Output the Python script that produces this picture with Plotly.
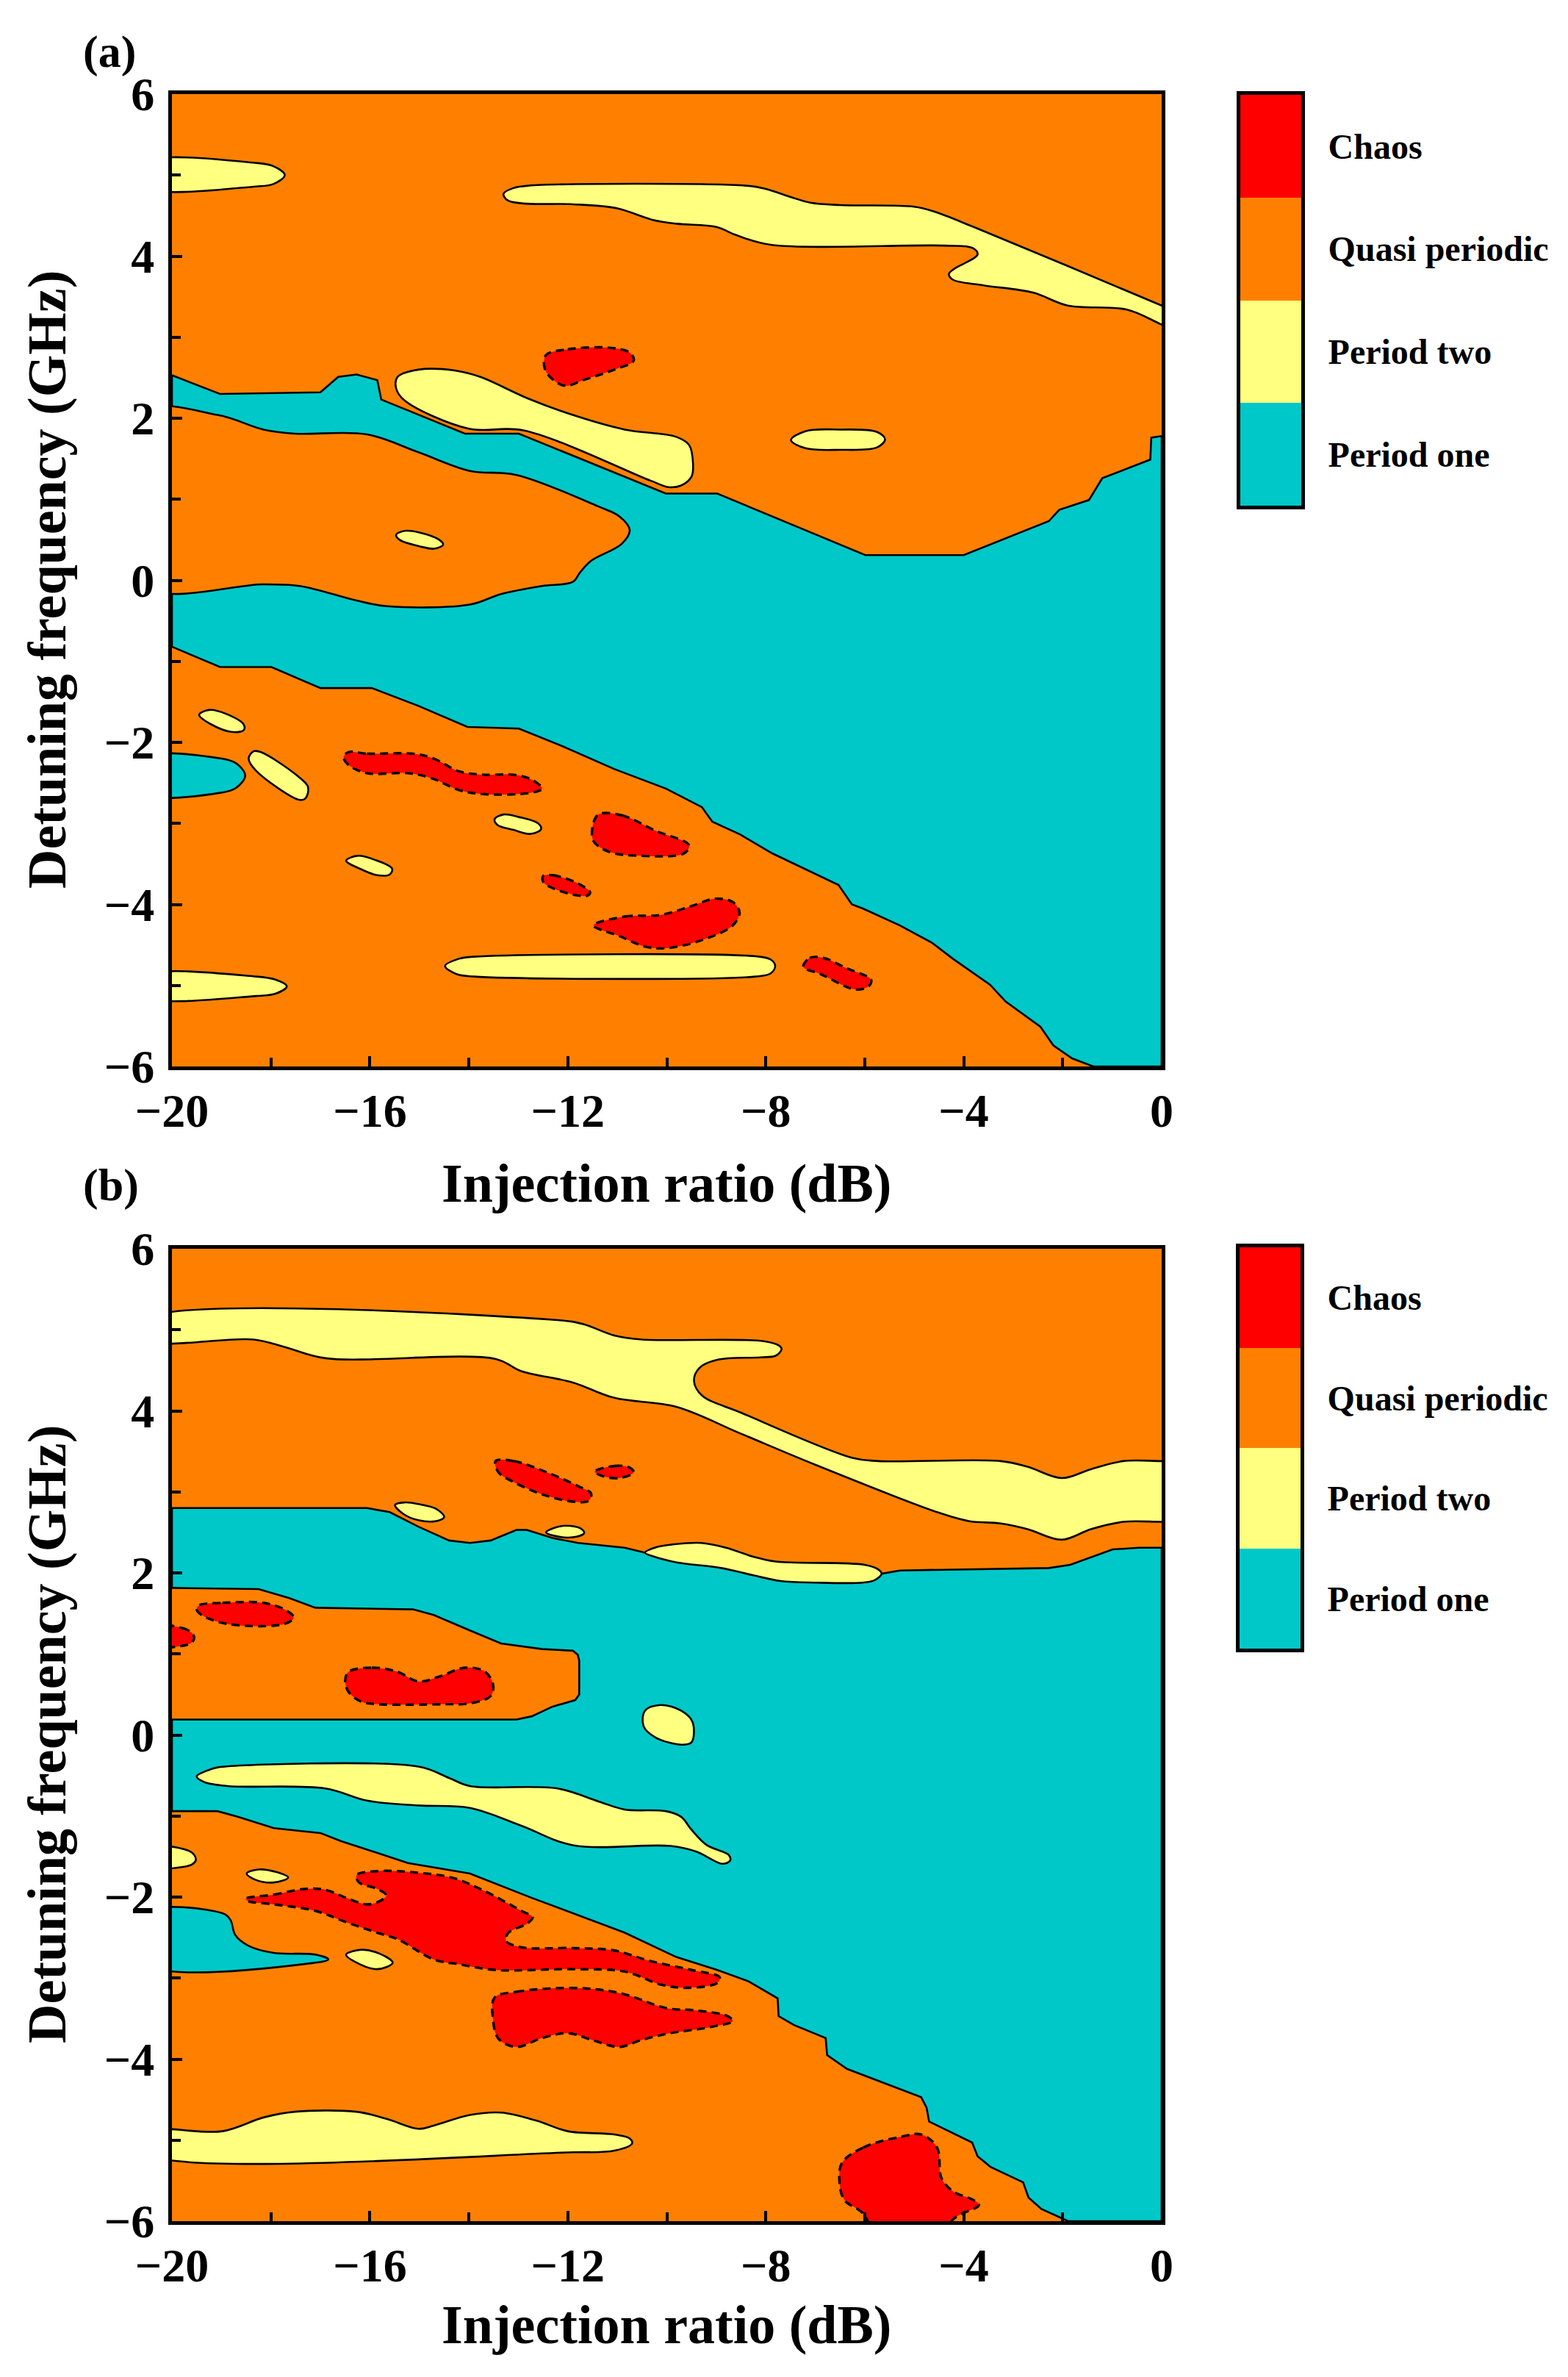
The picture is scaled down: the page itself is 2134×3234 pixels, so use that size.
import plotly.graph_objects as go

W, H = 2134, 3234
ORANGE = "#FF8000"
CYAN = "#00C8C8"
YELLOW = "#FFFF80"
RED = "#FF0000"

# ---------------- Panel (a) regions (x: injection ratio dB, y: detuning GHz) ----------------
A_P1_MAIN = [(-20, 2.53), (-19.03, 2.30), (-17.0, 2.32), (-16.64, 2.51), (-16.27, 2.54), (-15.85, 2.47),
             (-15.77, 2.23), (-14.08, 1.81), (-12.99, 1.81), (-10.02, 1.07), (-8.98, 1.07), (-5.99, 0.31),
             (-4.0, 0.31), (-2.28, 0.73), (-2.07, 0.87), (-1.47, 0.99), (-1.2, 1.26), (-0.23, 1.49),
             (-0.21, 1.76), (0, 1.78), (0, -6), (-1.38, -6), (-1.81, -5.90), (-2.19, -5.74), (-2.45, -5.51),
             (-3.15, -5.20), (-3.47, -4.99), (-4.22, -4.67), (-4.65, -4.47), (-5.29, -4.26), (-6.04, -4.05),
             (-6.26, -4.0), (-6.53, -3.76), (-7.87, -3.37), (-8.51, -3.14), (-9.08, -2.98), (-9.29, -2.80),
             (-10.02, -2.57), (-11.06, -2.33), (-12.1, -2.05), (-12.99, -1.83), (-14.03, -1.81),
             (-15.02, -1.55), (-15.96, -1.33), (-17.0, -1.33), (-17.99, -1.07), (-19.03, -1.07), (-20, -0.82)]
A_QP_POCKET = [(-20.6, 2.07), (-19.08, 2.04), (-18.15, 1.86), (-17.52, 1.81), (-16.06, 1.80), (-15.02, 1.58),
               (-13.98, 1.35), (-13.04, 1.30), (-11.38, 0.91), (-10.96, 0.79), (-10.75, 0.62), (-10.91, 0.45),
               (-11.53, 0.24), (-11.75, 0.10), (-11.9, -0.02), (-12.52, -0.07), (-13.35, -0.17),
               (-13.98, -0.30), (-15.65, -0.32), (-16.27, -0.25), (-17.42, -0.07), (-18.15, -0.05), (-20.6, -0.05)]
A_P1_BLOB = [(-20.6, -2.2), (-19.0, -2.2), (-18.7, -2.26), (-18.52, -2.41), (-18.7, -2.56), (-19.0, -2.62), (-20.6, -2.62)]
A_P2_1 = [(-20.6, 5.15), (-18.3, 5.15), (-17.95, 5.11), (-17.72, 5.0), (-17.95, 4.89), (-18.3, 4.86), (-20.6, 4.86)]
A_P2_2 = [(-13.3, 4.77), (-13.1, 4.84), (-12.8, 4.87), (-8.4, 4.87), (-8.0, 4.83), (-7.5, 4.73), (-7.1, 4.66),
          (-6.5, 4.63), (-5.0, 4.61), (-4.6, 4.55), (-3.8, 4.36), (0, 3.39), (0.5, 3.26), (0.5, 3.03), (0, 3.155),
          (-0.7, 3.34), (-1.9, 3.39), (-2.6, 3.55), (-3.6, 3.64), (-4.22, 3.71), (-4.3, 3.78), (-4.2, 3.84),
          (-3.72, 4.02), (-3.82, 4.10), (-4.4, 4.13), (-7.9, 4.14), (-8.6, 4.26), (-9.0, 4.36), (-9.8, 4.40),
          (-10.3, 4.45), (-11.0, 4.59), (-11.9, 4.64), (-12.9, 4.65), (-13.22, 4.69)]
A_P2_3 = [(-15.44, 2.51), (-15.02, 2.60), (-14.29, 2.59), (-13.77, 2.51), (-12.83, 2.25), (-11.90, 2.04),
          (-10.85, 1.86), (-9.81, 1.77), (-9.55, 1.67), (-9.47, 1.44), (-9.5, 1.28), (-9.71, 1.17),
          (-9.97, 1.15), (-10.33, 1.23), (-12.9, 1.85), (-14.0, 1.87), (-15.3, 2.22), (-15.47, 2.37)]
A_P2_4 = [(-15.47, 0.56), (-15.3, 0.61), (-15.0, 0.59), (-14.6, 0.5), (-14.52, 0.44), (-14.7, 0.39), (-15.0, 0.42), (-15.4, 0.5)]
A_P2_5 = [(-7.49, 1.73), (-7.2, 1.84), (-6.5, 1.86), (-5.75, 1.83), (-5.59, 1.74), (-5.75, 1.64), (-6.5, 1.61), (-7.2, 1.63)]
A_P2_6 = [(-19.45, -1.66), (-19.25, -1.6), (-18.9, -1.65), (-18.55, -1.78), (-18.55, -1.85), (-18.8, -1.87), (-19.2, -1.78)]
A_P2_7 = [(-18.45, -2.2), (-18.35, -2.11), (-18.2, -2.12), (-17.45, -2.42), (-17.25, -2.55), (-17.3, -2.69),
          (-17.42, -2.71), (-18.3, -2.35)]
A_P2_8 = [(-13.48, -2.95), (-13.3, -2.89), (-13.0, -2.92), (-12.6, -3.0), (-12.54, -3.07), (-12.75, -3.13),
          (-13.1, -3.08), (-13.42, -3.02)]
A_P2_9 = [(-16.48, -3.46), (-16.25, -3.40), (-15.9, -3.45), (-15.55, -3.56), (-15.6, -3.63), (-15.85, -3.64), (-16.2, -3.56)]
A_P2_10 = [(-14.48, -4.76), (-14.2, -4.67), (-13.9, -4.645), (-8.2, -4.64), (-7.9, -4.68), (-7.81, -4.76),
           (-7.9, -4.85), (-8.2, -4.89), (-13.9, -4.89), (-14.25, -4.86)]
A_P2_11 = [(-20.6, -4.89), (-18.3, -4.89), (-17.9, -4.93), (-17.68, -5.01), (-17.9, -5.1), (-18.3, -5.13), (-20.6, -5.13)]
A_CH_1 = [(-12.44, 2.78), (-12.0, 2.85), (-11.17, 2.87), (-10.75, 2.81), (-10.67, 2.71), (-11.06, 2.60),
          (-11.69, 2.47), (-12.05, 2.40), (-12.31, 2.48), (-12.47, 2.62)]
A_CH_2 = [(-16.43, -2.12), (-16.06, -2.14), (-15.13, -2.14), (-14.71, -2.20), (-14.19, -2.36), (-13.67, -2.40),
          (-13.09, -2.40), (-12.73, -2.46), (-12.52, -2.57), (-12.73, -2.62), (-13.67, -2.64), (-14.19, -2.59),
          (-14.76, -2.44), (-15.23, -2.38), (-16.06, -2.38), (-16.43, -2.28), (-16.53, -2.18)]
A_CH_3 = [(-11.38, -2.89), (-10.91, -2.90), (-10.23, -3.09), (-9.55, -3.27), (-9.65, -3.37), (-10.54, -3.40),
          (-11.17, -3.35), (-11.48, -3.22), (-11.5, -3.04)]
A_CH_4 = [(-12.5, -3.65), (-12.3, -3.64), (-11.8, -3.74), (-11.55, -3.85), (-11.6, -3.89), (-11.8, -3.89),
          (-12.3, -3.8), (-12.5, -3.72)]
A_CH_5 = [(-11.48, -4.26), (-10.85, -4.15), (-10.12, -4.13), (-9.5, -4.02), (-9.03, -3.93), (-8.67, -3.97),
          (-8.53, -4.10), (-8.67, -4.26), (-9.29, -4.44), (-10.02, -4.54), (-10.44, -4.52), (-10.96, -4.39)]
A_CH_6 = [(-7.24, -4.77), (-7.11, -4.66), (-6.84, -4.66), (-6.36, -4.79), (-5.87, -4.93), (-5.92, -5.01),
          (-6.19, -5.05), (-6.89, -4.86)]

# ---------------- Panel (b) regions ----------------
B_P1_MAIN = [(-20, 2.80), (-16.06, 2.80), (-15.6, 2.75), (-15.02, 2.57), (-14.4, 2.40), (-13.98, 2.37),
             (-13.56, 2.40), (-13.04, 2.53), (-12.83, 2.53), (-12.31, 2.43), (-11.79, 2.37), (-10.85, 2.31),
             (-10.44, 2.25), (-9.3, 2.2), (-8.25, 2.08), (-7.0, 2.0), (-6.0, 2.0), (-5.66, 1.99), (-5.29, 2.03),
             (-2.28, 2.06), (-1.85, 2.10), (-0.99, 2.29), (-0.46, 2.31), (0, 2.31), (0, -6), (-1.89, -6.0),
             (-2.43, -5.85), (-2.69, -5.71), (-2.8, -5.52), (-3.46, -5.33), (-3.72, -5.20), (-3.83, -5.03),
             (-4.7, -4.77), (-4.75, -4.60), (-4.86, -4.47), (-6.36, -4.12), (-6.76, -3.95), (-6.79, -3.74),
             (-7.43, -3.58), (-7.74, -3.47), (-7.76, -3.25), (-8.35, -3.04), (-8.98, -2.90), (-9.81, -2.74),
             (-10.85, -2.44), (-11.9, -2.20), (-12.73, -2.01), (-13.98, -1.71), (-15.23, -1.58),
             (-16.58, -1.31), (-17.0, -1.21), (-17.94, -1.15), (-18.67, -1.01), (-19.08, -0.94), (-20, -0.94)]
B_QP_POCKET = [(-20.6, 1.82), (-18.25, 1.80), (-17.63, 1.69), (-17.1, 1.57), (-15.13, 1.55), (-14.71, 1.48),
               (-13.98, 1.29), (-13.35, 1.13), (-12.52, 1.06), (-11.9, 1.04), (-11.8, 0.99), (-11.77, 0.92),
               (-11.77, 0.50), (-11.85, 0.43), (-12.31, 0.35), (-12.73, 0.23), (-13.04, 0.19), (-20.6, 0.19)]
B_P1_BLOB = [(-20.6, -2.20), (-18.98, -2.20), (-18.82, -2.28), (-18.72, -2.47), (-18.46, -2.60), (-17.94, -2.69),
             (-17.1, -2.71), (-16.84, -2.77), (-17.1, -2.81), (-20.6, -2.81)]
B_P2_1 = [(-20.6, 5.12), (-12.21, 5.12), (-11.69, 5.07), (-11.06, 4.93), (-10.5, 4.88), (-8.04, 4.86),
          (-7.72, 4.80), (-7.68, 4.76), (-7.8, 4.68), (-8.1, 4.66), (-8.98, 4.63), (-9.34, 4.53), (-9.45, 4.37),
          (-9.29, 4.19), (-8.51, 3.98), (-6.25, 3.42), (-5.72, 3.38), (-3.25, 3.38), (-2.71, 3.31), (-2.02, 3.17),
          (-1.43, 3.28), (-0.78, 3.38), (0, 3.38), (0.6, 3.38), (0.6, 2.63), (0, 2.63), (-0.78, 2.63),
          (-1.43, 2.54), (-2.02, 2.41), (-2.71, 2.54), (-3.25, 2.61), (-3.9, 2.64), (-4.54, 2.75), (-7.02, 3.34),
          (-8.51, 3.72), (-9.81, 4.05), (-11.06, 4.16), (-11.9, 4.35), (-12.94, 4.49), (-13.46, 4.64),
          (-16.9, 4.65), (-17.73, 4.79), (-18.35, 4.88), (-20.6, 4.88)]
B_P2_2 = [(-10.44, 2.25), (-10.2, 2.32), (-9.9, 2.35), (-9.3, 2.37), (-8.8, 2.31), (-8.25, 2.2), (-7.8, 2.14),
          (-6.0, 2.1), (-5.72, 2.04), (-5.66, 1.99), (-5.8, 1.91), (-6.04, 1.88), (-7.0, 1.88), (-7.7, 1.9),
          (-8.25, 1.97), (-8.9, 2.06), (-9.8, 2.13), (-10.25, 2.2)]
B_P2_3 = [(-15.49, 2.84), (-15.3, 2.87), (-15.02, 2.85), (-14.66, 2.79), (-14.5, 2.69), (-14.66, 2.64),
          (-15.02, 2.65), (-15.33, 2.73)]
B_P2_4 = [(-12.44, 2.50), (-12.2, 2.57), (-11.95, 2.58), (-11.72, 2.54), (-11.67, 2.49), (-11.9, 2.44), (-12.21, 2.45)]
B_P2_5 = [(-10.44, 0.30), (-10.13, 0.37), (-9.71, 0.30), (-9.48, 0.16), (-9.5, -0.09), (-9.71, -0.12),
          (-10.23, -0.03), (-10.47, 0.11)]
B_P2_6 = [(-19.5, -0.51), (-19.2, -0.42), (-19.08, -0.40), (-15.02, -0.39), (-14.4, -0.53), (-13.98, -0.63),
          (-12.21, -0.66), (-11.38, -0.82), (-10.85, -0.92), (-10.02, -0.94), (-9.71, -1.01), (-9.5, -1.17),
          (-9.19, -1.36), (-8.75, -1.48), (-8.72, -1.55), (-8.88, -1.59), (-9.4, -1.44), (-9.92, -1.37),
          (-11.9, -1.36), (-12.94, -1.12), (-13.98, -0.90), (-15.02, -0.87), (-16.06, -0.81), (-16.9, -0.66),
          (-18.88, -0.63), (-19.35, -0.58)]
B_P2_7 = [(-20.6, -1.39), (-19.75, -1.41), (-19.55, -1.48), (-19.52, -1.55), (-19.6, -1.6), (-19.8, -1.63), (-20.6, -1.63)]
B_P2_8 = [(-18.49, -1.71), (-18.25, -1.66), (-17.9, -1.69), (-17.65, -1.76), (-17.94, -1.82), (-18.3, -1.79)]
B_P2_9 = [(-16.48, -2.71), (-16.17, -2.65), (-15.8, -2.7), (-15.54, -2.81), (-15.85, -2.89), (-16.3, -2.8)]
B_P2_10 = [(-20.6, -4.90), (-18.98, -4.89), (-18.15, -4.72), (-17.52, -4.65), (-16.27, -4.65), (-15.65, -4.74),
           (-15.02, -4.86), (-14.71, -4.82), (-13.98, -4.69), (-13.35, -4.66), (-12.63, -4.76), (-12.0, -4.89),
           (-11.06, -4.93), (-10.75, -4.98), (-10.7, -5.04), (-11.06, -5.13), (-11.9, -5.15), (-20.6, -5.15)]
B_CH_1 = [(-20.6, 1.35), (-19.8, 1.32), (-19.6, 1.26), (-19.55, 1.2), (-19.6, 1.14), (-19.8, 1.1), (-20.6, 1.1)]
B_CH_2 = [(-19.45, 1.60), (-18.98, 1.63), (-18.15, 1.63), (-17.73, 1.55), (-17.54, 1.45), (-17.73, 1.37),
          (-18.88, 1.37), (-19.4, 1.48), (-19.5, 1.55)]
B_CH_3 = [(-16.43, 0.78), (-15.96, 0.83), (-15.44, 0.78), (-15.02, 0.66), (-14.6, 0.72), (-14.08, 0.83),
          (-13.67, 0.78), (-13.51, 0.62), (-13.56, 0.48), (-13.98, 0.39), (-14.5, 0.38), (-15.85, 0.38),
          (-16.17, 0.41), (-16.43, 0.53), (-16.5, 0.67)]
B_CH_4 = [(-13.46, 3.38), (-13.09, 3.38), (-12.42, 3.24), (-11.79, 3.07), (-11.53, 2.98), (-11.58, 2.89),
          (-11.9, 2.88), (-12.52, 2.97), (-13.09, 3.12), (-13.4, 3.24)]
B_CH_5 = [(-11.46, 3.25), (-11.06, 3.32), (-10.75, 3.30), (-10.67, 3.24), (-10.96, 3.17), (-11.27, 3.19)]
B_CH_6 = [(-18.51, -2.02), (-17.94, -1.97), (-17.31, -1.90), (-16.9, -1.91), (-16.48, -2.01), (-16.06, -2.09),
          (-15.8, -2.05), (-15.67, -1.98), (-15.85, -1.90), (-16.22, -1.82), (-16.27, -1.73), (-15.85, -1.68),
          (-15.02, -1.70), (-14.29, -1.77), (-13.67, -1.93), (-12.94, -2.17), (-12.71, -2.25), (-12.83, -2.33),
          (-13.2, -2.44), (-13.25, -2.54), (-12.94, -2.62), (-11.9, -2.63), (-11.06, -2.66), (-10.33, -2.79),
          (-9.5, -2.90), (-8.93, -2.99), (-8.98, -3.06), (-9.6, -3.12), (-10.12, -3.08), (-10.85, -2.92),
          (-11.9, -2.89), (-13.46, -2.90), (-14.19, -2.83), (-14.71, -2.77), (-15.44, -2.52), (-15.85, -2.44),
          (-16.48, -2.31), (-17.1, -2.17), (-17.94, -2.09), (-18.46, -2.05)]
B_CH_7 = [(-13.48, -3.24), (-13.04, -3.17), (-12.42, -3.13), (-11.58, -3.13), (-10.85, -3.20), (-10.02, -3.37),
          (-9.4, -3.40), (-8.77, -3.47), (-8.67, -3.53), (-9.08, -3.60), (-10.02, -3.69), (-10.54, -3.77),
          (-10.96, -3.85), (-11.48, -3.77), (-12.0, -3.68), (-12.52, -3.74), (-13.04, -3.85), (-13.4, -3.75),
          (-13.51, -3.52)]
B_CH_8 = [(-6.46, -5.28), (-6.03, -5.09), (-5.28, -4.96), (-4.86, -4.93), (-4.54, -5.09), (-4.45, -5.47),
          (-4.22, -5.63), (-3.8, -5.74), (-3.69, -5.80), (-4.22, -5.98), (-4.45, -6.3), (-5.63, -6.3),
          (-6.04, -5.9), (-6.41, -5.74), (-6.51, -5.52)]

# ---------------- Legend / axes ----------------
LEGEND_LABELS = ["Period one", "Period two", "Quasi periodic", "Chaos"]
LEGEND_CODES = [0, 1, 2, 3]
X_RANGE = [-20, 0]
Y_RANGE = [-6, 6]
X_TITLE = "Injection ratio (dB)"
Y_TITLE = "Detuning frequency (GHz)"
PANEL_LABELS = ["(a)", "(b)"]

FONT = "Liberation Serif, Times New Roman, serif"

fig = go.Figure()


def add_region(pts, color, xa, ya, shape="spline", dashed=False):
    xs = [p[0] for p in pts] + [pts[0][0]]
    ys = [p[1] for p in pts] + [pts[0][1]]
    line = dict(color="black", width=2.6, shape=shape)
    if shape == "spline":
        line["smoothing"] = 1.0
    if dashed:
        line["dash"] = "11px,7px"
        line["width"] = 3.4
    fig.add_trace(go.Scatter(x=xs, y=ys, mode="lines", fill="toself", fillcolor=color, line=line,
                             xaxis=xa, yaxis=ya, hoverinfo="skip", showlegend=False))


# panel (a)
add_region(A_P1_MAIN, CYAN, "x", "y", shape="linear")
add_region(A_QP_POCKET, ORANGE, "x", "y", shape="spline")
add_region(A_P1_BLOB, CYAN, "x", "y")
for r in [A_P2_1, A_P2_2, A_P2_3, A_P2_4, A_P2_5, A_P2_6, A_P2_7, A_P2_8, A_P2_9, A_P2_10, A_P2_11]:
    add_region(r, YELLOW, "x", "y")
for r in [A_CH_1, A_CH_2, A_CH_3, A_CH_4, A_CH_5, A_CH_6]:
    add_region(r, RED, "x", "y", dashed=True)

# panel (b)
add_region(B_P1_MAIN, CYAN, "x2", "y2", shape="linear")
add_region(B_QP_POCKET, ORANGE, "x2", "y2", shape="linear")
add_region(B_P1_BLOB, CYAN, "x2", "y2")
for r in [B_P2_1, B_P2_2, B_P2_3, B_P2_4, B_P2_5, B_P2_6, B_P2_7, B_P2_8, B_P2_9, B_P2_10]:
    add_region(r, YELLOW, "x2", "y2")
for r in [B_CH_1, B_CH_2, B_CH_3, B_CH_4, B_CH_5, B_CH_6, B_CH_7, B_CH_8]:
    add_region(r, RED, "x2", "y2", dashed=True)

# legend bars
legend_cs = [[0, CYAN], [0.25, CYAN], [0.25, YELLOW], [0.5, YELLOW], [0.5, ORANGE], [0.75, ORANGE],
             [0.75, RED], [1, RED]]
for xa, ya in [("x3", "y3"), ("x4", "y4")]:
    fig.add_trace(go.Heatmap(z=[[c] for c in LEGEND_CODES], x=[0], y=LEGEND_LABELS, colorscale=legend_cs,
                             zmin=-0.5, zmax=3.5, showscale=False, xaxis=xa, yaxis=ya, hoverinfo="skip"))


def px_x(p):
    return p / W


def px_y(p):
    return 1 - p / H


tickfont = dict(family=FONT, size=64, color="black", weight="bold")
common_x = dict(range=X_RANGE, dtick=4, tick0=-20, ticks="inside", ticklen=14, tickwidth=4, tickcolor="black",
                showline=True, linewidth=5, linecolor="black", mirror=True, showgrid=False, zeroline=False,
                tickfont=tickfont, domain=[px_x(226), px_x(1573)], automargin=False, ticklabelstandoff=0,
                minor=dict(dtick=2, tick0=-20, ticks="inside", ticklen=12, tickwidth=4, tickcolor="black"))
common_y = dict(range=Y_RANGE, dtick=2, tick0=-6, ticks="inside", ticklen=14, tickwidth=4, tickcolor="black",
                showline=True, linewidth=5, linecolor="black", mirror=True, showgrid=False, zeroline=False,
                tickfont=tickfont, automargin=False, ticklabelstandoff=6,
                minor=dict(dtick=1, tick0=-6, ticks="inside", ticklen=12, tickwidth=4, tickcolor="black"))

leg_x = dict(showticklabels=False, ticks="", showline=True, linewidth=5, linecolor="black", mirror=True,
             showgrid=False, zeroline=False, fixedrange=True, automargin=False)
leg_y = dict(side="right", ticks="", showline=True, linewidth=5, linecolor="black", mirror=True,
             showgrid=False, zeroline=False, ticklabelstandoff=22, automargin=False,
             tickfont=dict(family=FONT, size=48, color="black", weight="bold"))

fig.update_layout(
    width=W, height=H, margin=dict(l=0, r=0, t=0, b=0, autoexpand=False),
    paper_bgcolor="white", plot_bgcolor=ORANGE,
    xaxis=dict(**common_x, anchor="y"),
    yaxis=dict(**common_y, anchor="x", domain=[px_y(1443), px_y(120)]),
    xaxis2=dict(**common_x, anchor="y2"),
    yaxis2=dict(**common_y, anchor="x2", domain=[px_y(3014), px_y(1691)]),
    xaxis3=dict(**leg_x, anchor="y3", domain=[px_x(1680), px_x(1763)]),
    yaxis3=dict(**leg_y, anchor="x3", domain=[px_y(680), px_y(121)]),
    xaxis4=dict(**leg_x, anchor="y4", domain=[px_x(1679), px_x(1762)]),
    yaxis4=dict(**leg_y, anchor="x4", domain=[px_y(2235), px_y(1689)]),
)

ann_font_title = dict(family=FONT, size=74, color="black", weight="bold")
annotations = []
for label, (lx, ly) in zip(PANEL_LABELS, [(141, 62), (143, 1605)]):
    annotations.append(dict(text=label, x=px_x(lx), y=px_y(ly), xref="paper", yref="paper", showarrow=False,
                            xanchor="center", yanchor="middle",
                            font=dict(family=FONT, size=62, color="black", weight="bold")))
for ty in [1602, 3155]:
    annotations.append(dict(text=X_TITLE, x=px_x(899), y=px_y(ty), xref="paper", yref="paper", showarrow=False,
                            xanchor="center", yanchor="middle", font=ann_font_title))
for cy in [781, 2352]:
    annotations.append(dict(text=Y_TITLE, x=px_x(56), y=px_y(cy), xref="paper", yref="paper", showarrow=False,
                            xanchor="center", yanchor="middle", textangle=-90, font=ann_font_title))
fig.update_layout(annotations=annotations)

fig.write_html("out.html")
